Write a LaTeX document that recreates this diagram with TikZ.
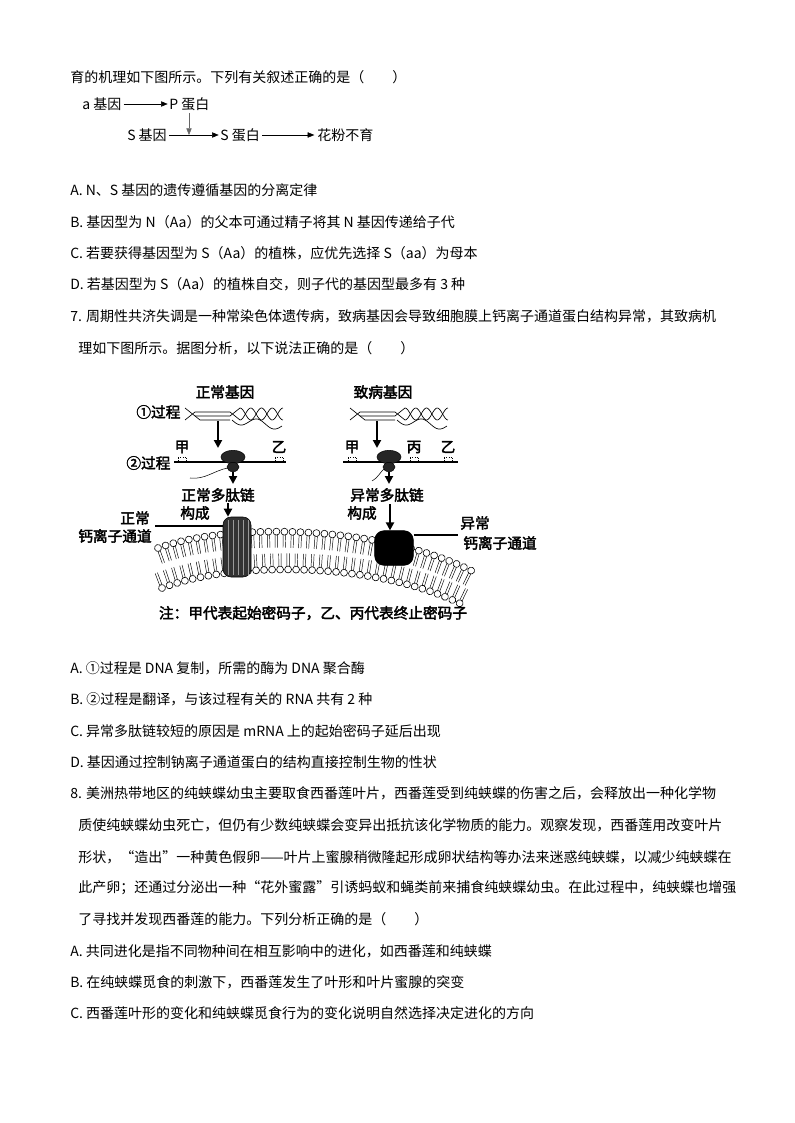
\documentclass[tikz,border=0pt]{standalone}
\usepackage{fontspec}
\setmainfont{Noto Sans CJK SC}[AutoFakeBold=2.5]
\usetikzlibrary{arrows.meta,decorations.markings,shapes.geometric}
\begin{document}
\begin{tikzpicture}[x=0.75pt,y=-0.75pt,
  tx/.style={anchor=west,inner sep=0pt,font=\fontsize{10.5}{12}\selectfont},
  fl/.style={inner sep=1pt,font=\fontsize{11}{13}\selectfont\bfseries},
  sar/.style={-{Triangle[length=5pt,width=4pt]},line width=0.4pt},
  bar/.style={-{Triangle[length=6pt,width=6pt]},line width=1.6pt},
  rib/.style={fill=black!85,draw=black}]
\useasboundingbox (0,0) rectangle (794,1123);
% text lines
\node[tx] (l1) at (70,77) {育的机理如下图所示。下列有关叙述正确的是（\quad\quad）};
\node[tx] (a6) at (70,190) {A. N、S 基因的遗传遵循基因的分离定律};
\node[tx] (b6) at (70,222) {B. 基因型为 N（Aa）的父本可通过精子将其 N 基因传递给子代};
\node[tx] (c6) at (70,253) {C. 若要获得基因型为 S（Aa）的植株，应优先选择 S（aa）为母本};
\node[tx] (d6) at (70,284) {D. 若基因型为 S（Aa）的植株自交，则子代的基因型最多有 3 种};
\node[tx] (q7) at (70,316) {7. 周期性共济失调是一种常染色体遗传病，致病基因会导致细胞膜上钙离子通道蛋白结构异常，其致病机};
\node[tx] (q7b) at (78,348) {理如下图所示。据图分析，以下说法正确的是（\quad\quad）};
\node[tx] (a7) at (70,668) {A. ①过程是 DNA 复制，所需的酶为 DNA 聚合酶};
\node[tx] (b7) at (70,699) {B. ②过程是翻译，与该过程有关的 RNA 共有 2 种};
\node[tx] (c7) at (70,731) {C. 异常多肽链较短的原因是 mRNA 上的起始密码子延后出现};
\node[tx] (d7) at (70,762) {D. 基因通过控制钠离子通道蛋白的结构直接控制生物的性状};
\node[tx] (q8) at (70,793) {8. 美洲热带地区的纯蛱蝶幼虫主要取食西番莲叶片，西番莲受到纯蛱蝶的伤害之后，会释放出一种化学物};
\node[tx] (q8b) at (78,825) {质使纯蛱蝶幼虫死亡，但仍有少数纯蛱蝶会变异出抵抗该化学物质的能力。观察发现，西番莲用改变叶片};
\node[tx] (q8c) at (78,857) {形状，“造出”一种黄色假卵——叶片上蜜腺稍微隆起形成卵状结构等办法来迷惑纯蛱蝶，以减少纯蛱蝶在};
\node[tx] (q8d) at (78,888) {此产卵；还通过分泌出一种“花外蜜露”引诱蚂蚁和蝇类前来捕食纯蛱蝶幼虫。在此过程中，纯蛱蝶也增强};
\node[tx] (q8e) at (78,919) {了寻找并发现西番莲的能力。下列分析正确的是（\quad\quad）};
\node[tx] (a8) at (70,951) {A. 共同进化是指不同物种间在相互影响中的进化，如西番莲和纯蛱蝶};
\node[tx] (b8) at (70,982) {B. 在纯蛱蝶觅食的刺激下，西番莲发生了叶形和叶片蜜腺的突变};
\node[tx] (c8) at (70,1013) {C. 西番莲叶形的变化和纯蛱蝶觅食行为的变化说明自然选择决定进化的方向};
% small flow diagram
\node[tx] (ag) at (82,104) {a 基因};
\node[tx] (pp) at (169,104) {P 蛋白};
\node[tx] (sg) at (127,135) {S 基因};
\node[tx] (sp) at (220,135) {S 蛋白};
\node[tx] (hf) at (317,135) {花粉不育};
\draw[sar] (ag.east) ++(2,0) -- ([xshift=-1]pp.west);
\draw[sar] (sg.east) ++(2,0) -- ([xshift=-1]sp.west);
\draw[sar] (sp.east) ++(2,0) -- ([xshift=-2]hf.west);
\coordinate (mid) at (189,135);
\draw[sar,draw=black!60] (189,113) -- (mid);
% ===== figure =====
\fill[white] (158,548) .. controls (230,522) and (380,525) .. (472,571) -- (465,606) .. controls (380,562) and (235,560) .. (162,588) -- cycle;
\path[decoration={markings,mark=between positions 0 and 1 step 6pt with {
  \draw[line width=0.35pt] (-0.9pt,-1.5pt)--(-0.9pt,-12pt) (0.9pt,-1.5pt)--(0.9pt,-12pt);
  \draw[fill=white,line width=0.45pt] (0,0) circle (2.6pt);}},decorate]
  (158,548) .. controls (230,522) and (380,525) .. (472,571);
\path[decoration={markings,mark=between positions 0 and 1 step 6pt with {
  \draw[line width=0.35pt] (-0.9pt,1.5pt)--(-0.9pt,12pt) (0.9pt,1.5pt)--(0.9pt,12pt);
  \draw[fill=white,line width=0.45pt] (0,0) circle (2.6pt);}},decorate]
  (162,588) .. controls (235,560) and (380,562) .. (465,606);
% channels
\node[draw=black,fill=black!80,rounded corners=6pt,minimum width=21pt,minimum height=45pt,inner sep=0] (nch) at (237,547) {};
\foreach \xx in {228,233,238,243,248}{\draw[black!40,line width=0.3pt] (\xx,520)--(\xx,575);}
\node[draw=black,fill=black,rounded corners=7pt,minimum width=29pt,minimum height=26pt,inner sep=0] (ach) at (394,548) {};
% left gene
\node[fl] (ng) at (225,392) {正常基因};
\node[fl,anchor=east] (p1) at (182,412) {①过程};
\draw[line width=0.5pt] (185,408) -- (195,416) -- (230,416) -- (240,408);
\draw[line width=0.5pt] (185,420) -- (195,412) -- (230,412) -- (240,420);
\draw[line width=0.5pt] (195,416) -- (200,420) -- (230,420);
\draw[line width=0.5pt,domain=0:1,samples=40] plot ({240+43*\x},{414-6*cos(\x*720)});
\draw[line width=0.5pt,domain=0:1,samples=40] plot ({240+43*\x},{414+6*cos(\x*720)});
\draw[line width=0.5pt,domain=0:1,samples=40] plot ({232+50*\x},{420+6*\x+4*sin(\x*540)});
\coordinate (ra1) at (218,421); \coordinate (rb1) at (218,448);
\draw[bar] (ra1) -- (rb1);
\node[fl] (j1) at (182,447) {甲};
\node[fl] (y1) at (279,447) {乙};
\node[fl,anchor=east] (p2) at (172,463) {②过程};
\coordinate (m1a) at (174,462); \coordinate (m1b) at (286,462);
\draw[line width=1.2pt] (m1a) -- (m1b);
\foreach \xx in {182,279}{\draw[densely dotted,line width=0.6pt] (\xx-4,461) -- (\xx-4,457) -- (\xx+4,457) -- (\xx+4,461);}
\draw[line width=0.4pt] (228,468) .. controls (215,470) and (205,480) .. (190,478);
\node[rib,ellipse,minimum width=18pt,minimum height=10pt,inner sep=0] (r1) at (233,457) {};
\node[rib,ellipse,minimum width=9pt,minimum height=7pt,inner sep=0] (r1b) at (233,467) {};
\coordinate (r1c) at (233,484);
\draw[bar] (r1b.south) -- (r1c);
\node[fl] (np) at (218,495) {正常多肽链};
\node[fl] (gc1) at (195,513) {构成};
\draw[bar] (228,503) -- (nch.north west -| 228,518);
\node[fl] (zc) at (135,518) {正常};
\node[fl] (zct) at (115,536) {钙离子通道};
\draw[line width=1.2pt] (155,526) -- (nch.west |- 0,526);
% right gene
\node[fl] (bg) at (383,392) {致病基因};
\draw[line width=0.5pt] (350,408) -- (360,416) -- (395,416) -- (405,408);
\draw[line width=0.5pt] (350,420) -- (360,412) -- (395,412) -- (405,420);
\draw[line width=0.5pt] (360,416) -- (365,420) -- (395,420);
\draw[line width=0.5pt,domain=0:1,samples=40] plot ({405+43*\x},{414-6*cos(\x*720)});
\draw[line width=0.5pt,domain=0:1,samples=40] plot ({405+43*\x},{414+6*cos(\x*720)});
\draw[line width=0.5pt,domain=0:1,samples=40] plot ({397+50*\x},{420+6*\x+4*sin(\x*540)});
\coordinate (ra2) at (377,421); \coordinate (rb2) at (377,448);
\draw[bar] (ra2) -- (rb2);
\node[fl] (j2) at (352,447) {甲};
\node[fl] (bi) at (414,447) {丙};
\node[fl] (y2) at (448,447) {乙};
\draw[line width=1.2pt] (343,462) -- (458,462);
\foreach \xx in {352,414,448}{\draw[densely dotted,line width=0.6pt] (\xx-4,461) -- (\xx-4,457) -- (\xx+4,457) -- (\xx+4,461);}
\draw[line width=0.4pt] (385,468) .. controls (380,472) and (378,478) .. (372,481);
\node[rib,ellipse,minimum width=18pt,minimum height=10pt,inner sep=0] (r2) at (389,457) {};
\node[rib,ellipse,minimum width=9pt,minimum height=7pt,inner sep=0] (r2b) at (389,467) {};
\coordinate (r2c) at (389,484);
\draw[bar] (r2b.south) -- (r2c);
\node[fl] (ap) at (387,495) {异常多肽链};
\node[fl] (gc2) at (362,513) {构成};
\draw[bar] (390,504) -- (ach.north -| 390,0);
\node[fl] (yc) at (475,523) {异常};
\node[fl] (yct) at (500,543) {钙离子通道};
\draw[line width=1.2pt] (ach.east |- 0,535) -- (458,535);
\node[fl] (note) at (313,613) {注：甲代表起始密码子，乙、丙代表终止密码子};
\end{tikzpicture}
\end{document}
